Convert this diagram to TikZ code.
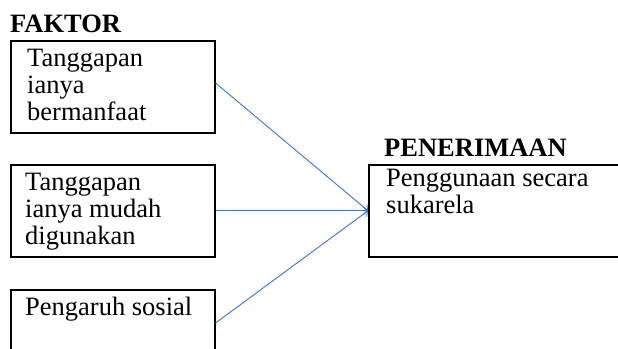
\documentclass[tikz,border=0pt]{standalone}
\usepackage{fontspec}
\setmainfont{Liberation Serif}
\usetikzlibrary{arrows.meta}
\definecolor{lineblue}{HTML}{4472C4}
\tikzset{
  boxnode/.style={draw=black, line width=1.5pt, anchor=north west, inner sep=0pt, minimum width=#1},
  txt/.style={anchor=base west, align=left, inner sep=0pt, font=\fontsize{26.5}{27}\selectfont},
  head/.style={anchor=base west, inner sep=0pt, font=\fontsize{26.5}{27}\selectfont\bfseries},
  conn/.style={draw=lineblue, line width=0.9pt, -{Straight Barb[length=4pt,width=8pt]}}
}
\begin{document}
\begin{tikzpicture}[x=1pt,y=-1pt]
\useasboundingbox (0,0) rectangle (618,348);
\clip (0,0) rectangle (618,348);
\node[head] (faktor) at (10,32) {FAKTOR};
\node[head] (penerimaan) at (384,156) {PENERIMAAN};
\node[boxnode=204pt, minimum height=92pt] (b1) at (10,40) {};
\node[boxnode=204pt, minimum height=92pt] (b2) at (10,164) {};
\node[boxnode=204pt, minimum height=70pt] (b3) at (10,289) {};
\node[boxnode=250pt, minimum height=92pt] (r) at (368,164) {};
\node[txt] (t1) at (27,120) {Tanggapan\\ianya\\bermanfaat};
\node[txt] (t2) at (25,244) {Tanggapan\\ianya mudah\\digunakan};
\node[txt] (t3) at (25,315) {Pengaruh sosial};
\node[txt] (tr) at (386,213) {Penggunaan secara\\sukarela};
\coordinate (y1) at (0,83);
\coordinate (y3) at (0,323);
\coordinate (s1) at (b1.east |- y1);
\coordinate (s3) at (b3.east |- y3);
\coordinate (rt) at (r.west);
\draw[conn] (s1) -- (rt);
\draw[conn] (b2.east) -- (rt);
\draw[conn] (s3) -- (rt);
\end{tikzpicture}
\end{document}
